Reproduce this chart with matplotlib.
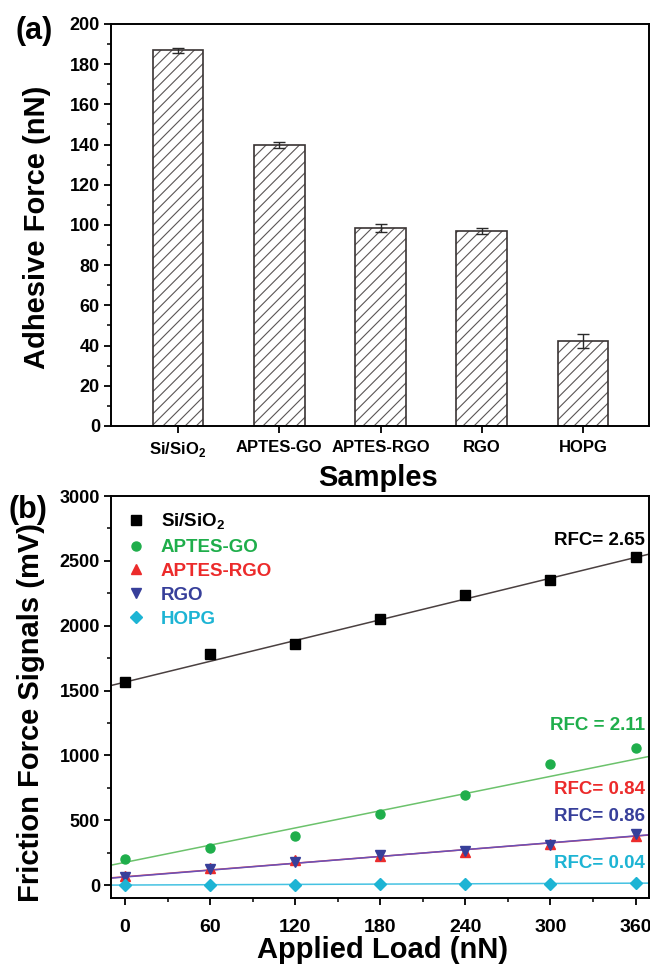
import numpy as np
import matplotlib
matplotlib.use("Agg")
import matplotlib.pyplot as plt
from matplotlib.ticker import MultipleLocator

# ---- panel (a) data ----
samples        = ["Si/SiO$_\\mathbf{2}$", "APTES-GO", "APTES-RGO", "RGO", "HOPG"]
adhesive_force = [187.0, 140.0, 98.5, 97.0, 42.5]
adhesive_err   = [1.2, 1.5, 2.0, 1.5, 3.5]

# ---- panel (b) data ----
applied_load = [0, 60, 120, 180, 240, 300, 360]
series_names = ["Si/SiO$_\\mathbf{2}$", "APTES-GO", "APTES-RGO", "RGO", "HOPG"]
friction_si        = [1565, 1780, 1855, 2050, 2235, 2355, 2530]
friction_aptes_go  = [200, 285, 380, 550, 695, 930, 1060]
friction_aptes_rgo = [70, 130, 195, 225, 255, 315, 375]
friction_rgo       = [65, 120, 180, 235, 265, 305, 395]
friction_hopg      = [0, 2, 3, 5, 8, 10, 15]
fit_intercept = [1565, 175, 64, 62, 0]
fit_slope     = [2.67, 2.21, 0.87, 0.88, 0.04]
rfc_labels    = ["RFC= 2.65", "RFC = 2.11", "RFC= 0.84", "RFC= 0.86", "RFC= 0.04"]

colors     = ["#000000", "#1fae4b", "#ec2b2b", "#373f9a", "#1db4d4"]
linecolors = ["#4a4040", "#6cc26c", "#e04848", "#6a50b8", "#45c2e2"]
markers    = ["s", "o", "^", "v", "D"]
msizes     = [6.5, 6.5, 7, 7, 6]

plt.rcParams["font.family"] = ["Liberation Sans", "DejaVu Sans"]
plt.rcParams["font.weight"] = "bold"
plt.rcParams["mathtext.fontset"] = "custom"
plt.rcParams["mathtext.rm"] = "Liberation Sans:bold"
plt.rcParams["mathtext.bf"] = "Liberation Sans:bold"
plt.rcParams["hatch.linewidth"] = 0.8
plt.rcParams["axes.linewidth"] = 1.4

W, H = 650, 967
fig = plt.figure(figsize=(W / 100, H / 100), dpi=100)


def px_box(left, top, right, bottom):
    return [left / W, 1 - bottom / H, (right - left) / W, (bottom - top) / H]


def style_ticks(ax):
    ax.tick_params(which="major", direction="out", length=5, width=1.3, pad=3)
    ax.tick_params(which="minor", direction="out", length=3, width=1.1)
    ax.tick_params(axis="x", which="both", top=False)
    ax.tick_params(axis="y", which="both", right=False)


# ---------------- (a) ----------------
axa = fig.add_axes(px_box(111, 24, 649, 426))
xpos = np.arange(len(samples))
# hatch drawn in mid grey, outline drawn darker on top
axa.bar(xpos, adhesive_force, width=0.5, color="white", edgecolor="#5a5555",
        linewidth=0, hatch="///", zorder=2)
axa.bar(xpos, adhesive_force, width=0.5, fill=False, edgecolor="#3a3434",
        linewidth=1.2, zorder=2.5)
axa.errorbar(xpos, adhesive_force, yerr=adhesive_err, fmt="none", ecolor="#2a2a2a",
             elinewidth=1.0, capsize=4, capthick=1.0, zorder=3)
axa.set_xlim(-0.66, 4.65)
axa.set_ylim(0, 200)
axa.set_xticks(xpos)
axa.set_xticklabels(samples, fontsize=12, fontweight="bold")
axa.yaxis.set_major_locator(MultipleLocator(20))
axa.yaxis.set_minor_locator(MultipleLocator(10))
for lbl in axa.get_yticklabels():
    lbl.set_fontsize(13)
    lbl.set_fontweight("bold")
style_ticks(axa)
axa.tick_params(axis="x", pad=5)

fig.text(34 / W, 1 - 31 / H, "(a)", fontsize=22, fontweight="bold", ha="center", va="center")
fig.text(37 / W, 1 - 227 / H, "Adhesive Force (nN)", fontsize=21, fontweight="bold",
         rotation=90, ha="center", va="center")
fig.text(378 / W, 1 - 478 / H, "Samples", fontsize=21, fontweight="bold", ha="center", va="center")

# ---------------- (b) ----------------
axb = fig.add_axes(px_box(111, 496, 649, 898))
friction = [friction_si, friction_aptes_go, friction_aptes_rgo, friction_rgo, friction_hopg]
xfit = np.array([-10, 372])
for i in range(len(series_names)):
    axb.plot(xfit, fit_intercept[i] + fit_slope[i] * xfit, color=linecolors[i], lw=1.1, zorder=2)
handles = []
for i in range(len(series_names)):
    h, = axb.plot(applied_load, friction[i], ls="none", marker=markers[i], ms=msizes[i],
                  color=colors[i], mec=colors[i], label=series_names[i], zorder=3)
    handles.append(h)

axb.set_xlim(-9.9, 369.5)
axb.set_ylim(-100, 3000)
axb.xaxis.set_major_locator(MultipleLocator(60))
axb.xaxis.set_minor_locator(MultipleLocator(30))
axb.yaxis.set_major_locator(MultipleLocator(500))
axb.yaxis.set_minor_locator(MultipleLocator(250))
for lbl in axb.get_xticklabels():
    lbl.set_fontsize(14)
    lbl.set_fontweight("bold")
for lbl in axb.get_yticklabels():
    lbl.set_fontsize(13)
    lbl.set_fontweight("bold")
style_ticks(axb)
axb.tick_params(axis="x", pad=10)

leg = axb.legend(handles=handles, loc="upper left", bbox_to_anchor=(0.0, 1.0), frameon=False,
                 prop={"size": 13.5, "weight": "bold"}, labelcolor="markerfacecolor",
                 handlelength=1.0, handletextpad=0.8, labelspacing=0.36, borderaxespad=0.45)

rfc_y = [0.89, 0.428, 0.269, 0.203, 0.087]
for i in range(len(rfc_labels)):
    axb.text(0.993, rfc_y[i], rfc_labels[i], transform=axb.transAxes, ha="right", va="center",
             fontsize=13.5, fontweight="bold", color=colors[i])

fig.text(28 / W, 1 - 510 / H, "(b)", fontsize=22, fontweight="bold", ha="center", va="center")
fig.text(31 / W, 1 - 712 / H, "Friction Force Signals (mV)", fontsize=21, fontweight="bold",
         rotation=90, ha="center", va="center")
fig.text(383 / W, 1 - 950 / H, "Applied Load (nN)", fontsize=21, fontweight="bold",
         ha="center", va="center")

fig.savefig("out.png", dpi=100, facecolor="white")
